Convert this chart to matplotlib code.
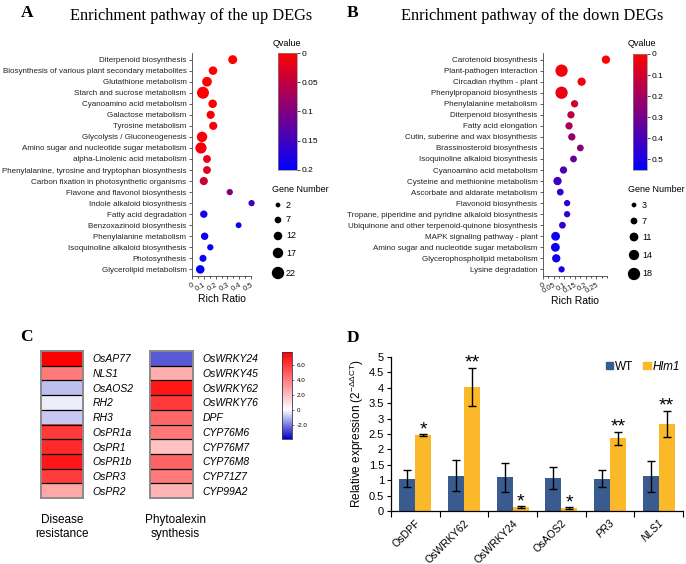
import matplotlib
matplotlib.use("Agg")
import matplotlib.pyplot as plt
import numpy as np
from matplotlib.colors import LinearSegmentedColormap, Normalize
from matplotlib.patches import Patch

plt.rcParams['font.family'] = ['Liberation Sans', 'DejaVu Sans']
plt.rcParams['mathtext.fontset'] = 'custom'
plt.rcParams['mathtext.rm'] = 'Liberation Sans'
plt.rcParams['mathtext.it'] = 'Liberation Sans:italic'

W, H = 686, 564

# ── Panel A: enrichment of up DEGs ──────────────────────────────────────────
up_paths = [
    "Diterpenoid biosynthesis",
    "Biosynthesis of various plant secondary metabolites",
    "Glutathione metabolism",
    "Starch and sucrose metabolism",
    "Cyanoamino acid metabolism",
    "Galactose metabolism",
    "Tyrosine metabolism",
    "Glycolysis / Gluconeogenesis",
    "Amino sugar and nucleotide sugar metabolism",
    "alpha-Linolenic acid metabolism",
    "Phenylalanine, tyrosine and tryptophan biosynthesis",
    "Carbon fixation in photosynthetic organisms",
    "Flavone and flavonol biosynthesis",
    "Indole alkaloid biosynthesis",
    "Fatty acid degradation",
    "Benzoxazinoid biosynthesis",
    "Phenylalanine metabolism",
    "Isoquinoline alkaloid biosynthesis",
    "Photosynthesis",
    "Glycerolipid metabolism",
]
up_ratio = [0.345, 0.178, 0.127, 0.093, 0.175, 0.158, 0.18, 0.085, 0.076, 0.127,
            0.127, 0.10, 0.32, 0.505, 0.10, 0.395, 0.107, 0.155, 0.093, 0.07]
up_genes = [13, 12, 15, 21, 12, 11, 11, 17, 19, 10, 10, 11, 6, 6, 9, 5, 9, 6, 8, 12]
up_q = [0.0, 0.0, 0.002, 0.002, 0.003, 0.004, 0.004, 0.006, 0.008, 0.02,
        0.022, 0.04, 0.10, 0.145, 0.18, 0.19, 0.19, 0.195, 0.195, 0.2]
up_legend_genes = [2, 7, 12, 17, 22]
up_cb_ticks = [0, 0.05, 0.1, 0.15, 0.2]
up_x_ticks = [0, 0.1, 0.2, 0.3, 0.4, 0.5]

# ── Panel B: enrichment of down DEGs ────────────────────────────────────────
down_paths = [
    "Carotenoid biosynthesis",
    "Plant-pathogen interaction",
    "Circadian rhythm - plant",
    "Phenylpropanoid biosynthesis",
    "Phenylalanine metabolism",
    "Diterpenoid biosynthesis",
    "Fatty acid elongation",
    "Cutin, suberine and wax biosynthesis",
    "Brassinosteroid biosynthesis",
    "Isoquinoline alkaloid biosynthesis",
    "Cyanoamino acid metabolism",
    "Cysteine and methionine metabolism",
    "Ascorbate and aldarate metabolism",
    "Flavonoid biosynthesis",
    "Tropane, piperidine and pyridine alkaloid biosynthesis",
    "Ubiquinone and other terpenoid-quinone biosynthesis",
    "MAPK signaling pathway - plant",
    "Amino sugar and nucleotide sugar metabolism",
    "Glycerophospholipid metabolism",
    "Lysine degradation",
]
down_ratio = [0.295, 0.087, 0.181, 0.087, 0.148, 0.131, 0.122, 0.135, 0.175, 0.143,
              0.096, 0.068, 0.081, 0.113, 0.113, 0.091, 0.059, 0.058, 0.062, 0.087]
down_genes = [10, 18, 10, 18, 8, 8, 8, 8, 7, 7, 8, 10, 7, 6, 6, 7, 11, 11, 10, 6]
down_q = [0.0, 0.02, 0.03, 0.04, 0.10, 0.15, 0.18, 0.22, 0.25, 0.33,
          0.38, 0.42, 0.43, 0.45, 0.45, 0.44, 0.52, 0.53, 0.52, 0.50]
down_legend_genes = [3, 7, 11, 14, 18]
down_cb_ticks = [0, 0.1, 0.2, 0.3, 0.4, 0.5]
down_x_ticks = [0, 0.05, 0.1, 0.15, 0.2, 0.25]

# ── Panel C: heatmaps ───────────────────────────────────────────────────────
disease_genes = ["OsAP77", "NLS1", "OsAOS2", "RH2", "RH3",
                 "OsPR1a", "OsPR1", "OsPR1b", "OsPR3", "OsPR2"]
disease_vals = [7.7, 4.0, -1.0, -0.25, -0.85, 5.9, 6.4, 7.0, 5.8, 2.6]
phyto_genes = ["OsWRKY24", "OsWRKY45", "OsWRKY62", "OsWRKY76", "DPF",
               "CYP76M6", "CYP76M7", "CYP76M8", "CYP71Z7", "CYP99A2"]
phyto_vals = [-2.5, 2.4, 7.0, 5.9, 4.6, 4.1, 1.8, 4.7, 4.0, 2.3]
heat_min, heat_max = -3.9, 7.7
heat_ticks = [6.0, 4.0, 2.0, 0, -2.0]

# ── Panel D: qRT-PCR ────────────────────────────────────────────────────────
qpcr_genes = ["OsDPF", "OsWRKY62", "OsWRKY24", "OsAOS2", "PR3", "NLS1"]
wt_expr = [1.05, 1.15, 1.10, 1.07, 1.05, 1.13]
wt_err = [0.28, 0.50, 0.47, 0.36, 0.28, 0.50]
hlm1_expr = [2.47, 4.03, 0.13, 0.10, 2.36, 2.83]
hlm1_err = [0.02, 0.62, 0.02, 0.02, 0.22, 0.43]
signif = ["*", "**", "*", "*", "**", "**"]


def box(x0, y0, x1, y1):
    """Pixel box (top-left origin) -> figure fraction rect."""
    return [x0 / W, 1 - y1 / H, (x1 - x0) / W, (y1 - y0) / H]


def ptx(x, y):
    return x / W, 1 - y / H


fig = plt.figure(figsize=(W / 100, H / 100), dpi=100)
fig.patch.set_facecolor("white")

q_cmap = LinearSegmentedColormap.from_list("qv", ["#ff0000", "#0000ff"])
overlay = fig.add_axes([0, 0, 1, 1])
overlay.set_xlim(0, W)
overlay.set_ylim(H, 0)
overlay.axis("off")


def size_of(g, a, b):
    return ((a + b * np.asarray(g, dtype=float)) * 0.72) ** 2


def enrichment(ax_px, cb_px, paths, ratio, genes, qv, qmax, xmax, xticks,
               minor_step, size_ab, leg_vals, leg_x, leg_ys, leg_title_xy,
               cb_ticks, qtitle_xy):
    ax = fig.add_axes(box(*ax_px))
    n = len(paths)
    norm = Normalize(0, qmax)
    ax.scatter(ratio, np.arange(n), s=size_of(genes, *size_ab), c=qv,
               cmap=q_cmap, norm=norm, linewidths=0, zorder=3, clip_on=False)
    ax.set_ylim(n - 0.4, -0.6)
    ax.set_xlim(0, xmax)
    ax.set_yticks(np.arange(n))
    ax.set_yticklabels(paths, fontsize=5.75, color="#222222")
    ax.set_xticks(xticks)
    ax.set_xticklabels([f"{t:g}" for t in xticks], fontsize=5.4, rotation=30,
                       ha="right", rotation_mode="anchor", color="#222222")
    ax.set_xticks(np.arange(0, xmax + 1e-9, minor_step), minor=True)
    ax.tick_params(axis="both", length=2.5, width=0.6, pad=1.5, color="#444444")
    ax.tick_params(axis="x", which="minor", length=1.5, width=0.5)
    for s in ["top", "right"]:
        ax.spines[s].set_visible(False)
    for s in ["left", "bottom"]:
        ax.spines[s].set_linewidth(0.6)
        ax.spines[s].set_color("#444444")
    ax.set_xlabel("Rich Ratio", fontsize=7.5, labelpad=1)

    cax = fig.add_axes(box(*cb_px))
    sm = plt.cm.ScalarMappable(norm=norm, cmap=q_cmap)
    cb = fig.colorbar(sm, cax=cax, ticks=cb_ticks)
    cb.ax.set_yticklabels([f"{t:g}" for t in cb_ticks])
    cax.invert_yaxis()
    cb.outline.set_linewidth(0.5)
    cb.outline.set_edgecolor("#888888")
    cax.tick_params(labelsize=6, length=2, width=0.5, pad=1)
    overlay.text(*qtitle_xy, "Qvalue", fontsize=6.5, ha="center", va="center")

    overlay.text(*leg_title_xy, "Gene Number", fontsize=6.5, ha="left",
                 va="center")
    overlay.scatter([leg_x] * len(leg_vals), leg_ys,
                    s=size_of(leg_vals, *size_ab), color="black", linewidths=0)
    for g, y in zip(leg_vals, leg_ys):
        overlay.text(leg_x + 8, y, str(g), fontsize=6.5, va="center")


# Panel A
enrichment((192, 53, 251, 276), (278, 53, 297, 170), up_paths, up_ratio,
           up_genes, up_q, 0.2, 0.5, up_x_ticks, 0.05, (4.0, 0.38),
           up_legend_genes, 278, [205, 220, 236, 253, 273], (272, 189),
           up_cb_ticks, (287, 43))
# Panel B
enrichment((543, 53, 607, 276), (633, 54, 647, 170), down_paths, down_ratio,
           down_genes, down_q, 0.55, 0.3, down_x_ticks, 0.025, (3.3, 0.5),
           down_legend_genes, 634, [205, 221, 237, 255, 274], (628, 190),
           down_cb_ticks, (642, 44))

for letter, x, y in [("A", 27, 13), ("B", 353, 13), ("C", 26, 337), ("D", 353, 338)]:
    fig.text(*ptx(x, y), letter, fontsize=12.5, fontweight="bold",
             family="Liberation Serif", ha="center", va="center")
fig.text(*ptx(70, 16), "Enrichment pathway of the up DEGs", fontsize=11.8,
         family="Liberation Serif", ha="left", va="center")
fig.text(*ptx(401, 16), "Enrichment pathway of the down DEGs", fontsize=11.8,
         family="Liberation Serif", ha="left", va="center")

# ── Panel C ─────────────────────────────────────────────────────────────────
w0 = -heat_min / (heat_max - heat_min)
heat_cmap = LinearSegmentedColormap.from_list(
    "heat", [(0, "#0000c0"), (w0, "#ffffff"), (1, "#ff0000")])
heat_norm = Normalize(heat_min, heat_max)

for (x0, x1), genes, vals in [((41, 83), disease_genes, disease_vals),
                              ((150, 193), phyto_genes, phyto_vals)]:
    hx = fig.add_axes(box(x0, 351, x1, 498))
    hx.imshow(np.array(vals)[:, None], aspect="auto", cmap=heat_cmap,
              norm=heat_norm, interpolation="nearest")
    hx.hlines(np.arange(len(vals) - 1) + 0.5, -0.5, 0.5, color="black",
              linewidth=0.9)
    hx.set_xticks([])
    hx.yaxis.tick_right()
    hx.set_yticks(np.arange(len(vals)))
    hx.set_yticklabels(genes, fontsize=7.5, fontstyle="italic")
    hx.tick_params(axis="y", length=0, pad=7)
    for s in hx.spines.values():
        s.set_linewidth(1.4)
        s.set_color("#8a8a8a")

hcax = fig.add_axes(box(282, 352, 292, 439))
hcb = fig.colorbar(plt.cm.ScalarMappable(norm=heat_norm, cmap=heat_cmap),
                   cax=hcax, ticks=heat_ticks)
hcb.ax.set_yticklabels([f"{t:.1f}" if t != 0 else "0" for t in heat_ticks])
hcax.tick_params(labelsize=4.5, length=1.5, width=0.4, pad=2)
hcb.outline.set_linewidth(0.6)
hcb.outline.set_edgecolor("#333355")

fig.text(*ptx(62, 527), "Disease\nresistance", fontsize=8.5, ha="center",
         va="center", linespacing=1.15)
fig.text(*ptx(175, 527), "Phytoalexin\nsynthesis", fontsize=8.5, ha="center",
         va="center", linespacing=1.15)

# ── Panel D ─────────────────────────────────────────────────────────────────
dx = fig.add_axes(box(391, 357, 683, 511))
xpos = np.arange(len(qpcr_genes))
bw = 0.33
wt_col, hlm_col = "#3a5b8f", "#fbb829"
err_kw = dict(ecolor="black", elinewidth=1.0, capsize=3, capthick=1.0)
dx.bar(xpos - bw / 2, wt_expr, bw, yerr=wt_err, color=wt_col, error_kw=err_kw,
       label="WT")
dx.bar(xpos + bw / 2, hlm1_expr, bw, yerr=hlm1_err, color=hlm_col,
       error_kw=err_kw, label="Hlm1")
for x, v, e, s in zip(xpos, hlm1_expr, hlm1_err, signif):
    dx.text(x + bw / 2, v + e + 0.0, s, fontsize=14, ha="center",
            va="baseline")
dx.set_xlim(-0.5, len(qpcr_genes) - 0.5)
dx.set_ylim(0, 5)
dx.set_yticks(np.arange(0, 5.01, 0.5))
dx.set_yticklabels([f"{t:g}" for t in np.arange(0, 5.01, 0.5)], fontsize=8)
dx.set_xticks(xpos)
dx.set_xticklabels(qpcr_genes, fontsize=7.6, rotation=45, ha="right",
                   rotation_mode="anchor")
for lbl in dx.get_xticklabels()[4:]:
    lbl.set_fontstyle("italic")
dx.set_xticks(np.arange(-0.5, len(qpcr_genes)), minor=True)
dx.tick_params(axis="x", which="major", length=0, pad=5)
dx.tick_params(axis="x", which="minor", length=4, width=0.8)
dx.tick_params(axis="y", length=3, width=0.8, pad=2)
for s in ["top", "right"]:
    dx.spines[s].set_visible(False)
for s in ["left", "bottom"]:
    dx.spines[s].set_linewidth(0.9)
dx.set_ylabel(r"Relative expression (2$^{-\Delta\Delta\mathrm{CT}}$)",
              fontsize=8.5, labelpad=2)
leg = dx.legend(handles=[Patch(color=wt_col, label="WT"),
                         Patch(color=hlm_col, label="Hlm1")],
                loc="upper right", bbox_to_anchor=(1.025, 1.045), ncol=2,
                frameon=False, fontsize=8.5, handlelength=0.6,
                handleheight=0.6, handletextpad=0.15, columnspacing=0.9)
leg.get_texts()[1].set_fontstyle("italic")

fig.savefig("out.png", dpi=100, facecolor="white")
